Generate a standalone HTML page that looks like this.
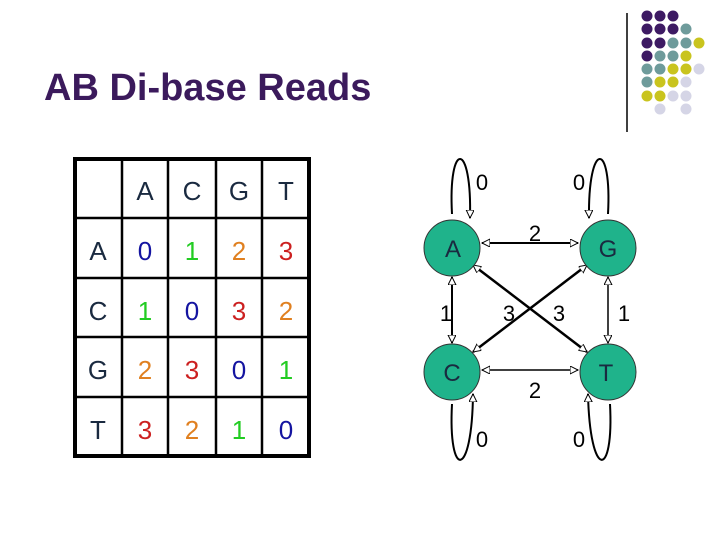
<!DOCTYPE html>
<html><head><style>
body{margin:0;width:720px;height:540px;background:#fff;overflow:hidden}
svg{display:block}
text{font-family:"Liberation Sans",sans-serif}
</style></head><body>
<svg width="720" height="540" viewBox="0 0 720 540">
<defs>
<marker id="ar" markerWidth="10" markerHeight="10" refX="8" refY="4" orient="auto-start-reverse" markerUnits="userSpaceOnUse">
<path d="M0,0 L8,4 L0,8 Z" fill="#fff" stroke="#000" stroke-width="1"/>
</marker>
</defs>
<text x="44" y="100" font-size="38" font-weight="bold" fill="#3b1a5c">AB Di-base Reads</text>
<line x1="627" y1="13" x2="627" y2="132" stroke="#000" stroke-width="1.5"/>
<g>
<circle cx="647" cy="16" r="5.5" fill="#3d1a63"/><circle cx="660" cy="16" r="5.5" fill="#3d1a63"/><circle cx="673" cy="16" r="5.5" fill="#3d1a63"/>
<circle cx="647" cy="29" r="5.5" fill="#3d1a63"/><circle cx="660" cy="29" r="5.5" fill="#3d1a63"/><circle cx="673" cy="29" r="5.5" fill="#3d1a63"/><circle cx="686" cy="29" r="5.5" fill="#6e9b9b"/>
<circle cx="647" cy="43" r="5.5" fill="#3d1a63"/><circle cx="660" cy="43" r="5.5" fill="#3d1a63"/><circle cx="673" cy="43" r="5.5" fill="#6e9b9b"/><circle cx="686" cy="43" r="5.5" fill="#6e9b9b"/><circle cx="699" cy="43" r="5.5" fill="#c9c41e"/>
<circle cx="647" cy="56" r="5.5" fill="#3d1a63"/><circle cx="660" cy="56" r="5.5" fill="#6e9b9b"/><circle cx="673" cy="56" r="5.5" fill="#6e9b9b"/><circle cx="686" cy="56" r="5.5" fill="#c9c41e"/>
<circle cx="647" cy="69" r="5.5" fill="#6e9b9b"/><circle cx="660" cy="69" r="5.5" fill="#6e9b9b"/><circle cx="673" cy="69" r="5.5" fill="#c9c41e"/><circle cx="686" cy="69" r="5.5" fill="#c9c41e"/><circle cx="699" cy="69" r="5.5" fill="#d5d5e6"/>
<circle cx="647" cy="82" r="5.5" fill="#6e9b9b"/><circle cx="660" cy="82" r="5.5" fill="#c9c41e"/><circle cx="673" cy="82" r="5.5" fill="#c9c41e"/><circle cx="686" cy="82" r="5.5" fill="#d5d5e6"/>
<circle cx="647" cy="96" r="5.5" fill="#c9c41e"/><circle cx="660" cy="96" r="5.5" fill="#c9c41e"/><circle cx="673" cy="96" r="5.5" fill="#d5d5e6"/><circle cx="686" cy="96" r="5.5" fill="#d5d5e6"/>
<circle cx="660" cy="109" r="5.5" fill="#d5d5e6"/><circle cx="686" cy="109" r="5.5" fill="#d5d5e6"/>
</g>
<!-- table -->
<g stroke="#000" fill="none">
<rect x="75" y="159" width="234" height="297" stroke-width="4"/>
<g stroke-width="2.5">
<line x1="122" y1="159" x2="122" y2="456"/><line x1="168" y1="159" x2="168" y2="456"/><line x1="216" y1="159" x2="216" y2="456"/><line x1="262" y1="159" x2="262" y2="456"/>
<line x1="75" y1="218" x2="309" y2="218"/><line x1="75" y1="278" x2="309" y2="278"/><line x1="75" y1="337" x2="309" y2="337"/><line x1="75" y1="397" x2="309" y2="397"/>
</g></g>
<g font-size="26" text-anchor="middle" fill="#1a2a40">
<text x="145" y="200">A</text><text x="192" y="200">C</text><text x="239" y="200">G</text><text x="286" y="200">T</text>
<text x="98" y="260">A</text><text x="98" y="320">C</text><text x="98" y="379">G</text><text x="98" y="439">T</text>
</g>
<g font-size="26" text-anchor="middle">
<text x="145" y="260" fill="#1414a0">0</text><text x="192" y="260" fill="#22cc22">1</text><text x="239" y="260" fill="#e08020">2</text><text x="286" y="260" fill="#cc2020">3</text>
<text x="145" y="320" fill="#22cc22">1</text><text x="192" y="320" fill="#1414a0">0</text><text x="239" y="320" fill="#cc2020">3</text><text x="286" y="320" fill="#e08020">2</text>
<text x="145" y="379" fill="#e08020">2</text><text x="192" y="379" fill="#cc2020">3</text><text x="239" y="379" fill="#1414a0">0</text><text x="286" y="379" fill="#22cc22">1</text>
<text x="145" y="439" fill="#cc2020">3</text><text x="192" y="439" fill="#e08020">2</text><text x="239" y="439" fill="#22cc22">1</text><text x="286" y="439" fill="#1414a0">0</text>
</g>
<!-- graph -->
<g stroke="#000" stroke-width="2" fill="none">
<path d="M452,214 C448,140 472,140 470,218" marker-end="url(#ar)"/>
<path d="M608,214 C612,140 588,140 589,218" marker-end="url(#ar)"/>
<path d="M452,404 C448,480 472,480 473,394" marker-end="url(#ar)"/>
<path d="M610,404 C614,480 590,480 588,394" marker-end="url(#ar)"/>
<line x1="482" y1="243" x2="578" y2="243" marker-start="url(#ar)" marker-end="url(#ar)"/>
<line x1="482" y1="370" x2="578" y2="370" stroke-width="1.5" marker-start="url(#ar)" marker-end="url(#ar)"/>
<line x1="452" y1="277" x2="452" y2="343" marker-start="url(#ar)" marker-end="url(#ar)"/>
<line x1="608" y1="277" x2="608" y2="343" stroke-width="1.5" marker-start="url(#ar)" marker-end="url(#ar)"/>
<line x1="473" y1="265" x2="587" y2="352" stroke-width="2.5" marker-start="url(#ar)" marker-end="url(#ar)"/>
<line x1="587" y1="265" x2="473" y2="352" stroke-width="2.5" marker-start="url(#ar)" marker-end="url(#ar)"/>
</g>
<g fill="#1fb38b" stroke="#333" stroke-width="1">
<circle cx="452" cy="248" r="28"/><circle cx="608" cy="248" r="28"/>
<circle cx="452" cy="372" r="28"/><circle cx="608" cy="372" r="28"/>
</g>
<g font-size="24" text-anchor="middle" fill="#1a2a40">
<text x="453" y="257">A</text><text x="608" y="257">G</text><text x="452" y="381">C</text><text x="606" y="381">T</text>
</g>
<g font-size="22" text-anchor="middle" fill="#000">
<text x="482" y="190">0</text><text x="579" y="190">0</text>
<text x="535" y="241">2</text>
<text x="446" y="321">1</text><text x="509" y="321">3</text><text x="559" y="321">3</text><text x="624" y="321">1</text>
<text x="535" y="398">2</text>
<text x="482" y="447">0</text><text x="579" y="447">0</text>
</g>
</svg>
</body></html>
